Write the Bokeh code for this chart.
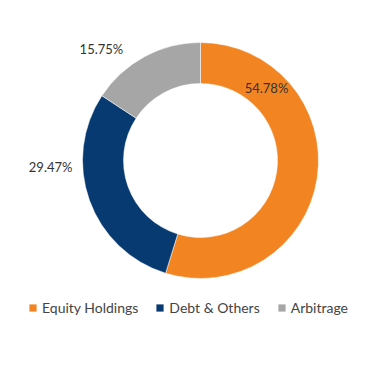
import math
from bokeh.plotting import figure
from bokeh.models import ColumnDataSource, Legend, LegendItem, Range1d
from bokeh.core.properties import value
from bokeh.embed import file_html
from bokeh.resources import INLINE

categories = ["Equity Holdings", "Debt & Others", "Arbitrage"]
shares = [54.78, 29.47, 15.75]
labels = ["54.78%", "29.47%", "15.75%"]
colors = ["#F28522", "#063A70", "#A6A6A6"]

W, H = 361, 382
CX, CY = 200, H - 160
R_IN, R_OUT = 77, 118

# wedge angles: start at top, clockwise
total = sum(shares)
starts, ends = [], []
acc = 0.0
for s in shares:
    a0 = math.pi / 2 - 2 * math.pi * acc / total
    acc += s
    a1 = math.pi / 2 - 2 * math.pi * acc / total
    starts.append(a0)
    ends.append(a1)

src = ColumnDataSource(dict(cat=categories, share=shares, color=colors,
                            start=starts, end=ends))

p = figure(width=W, height=H, output_backend="svg", toolbar_location=None,
           x_range=Range1d(0, W), y_range=Range1d(0, H), min_border=0,
           outline_line_color=None)
p.axis.visible = False
p.grid.visible = False

p.annular_wedge(x=CX, y=CY, inner_radius=R_IN, outer_radius=R_OUT,
                start_angle="start", end_angle="end", direction="clock",
                fill_color="color", line_color="white", line_width=0.5, source=src)

# label placement (polar, degrees / px)
label_theta = [47.5, 182.3, 131.5]
label_r = [97.7, 150, 149.5]
lx = [CX + r * math.cos(math.radians(t)) for r, t in zip(label_r, label_theta)]
ly = [CY + r * math.sin(math.radians(t)) for r, t in zip(label_r, label_theta)]
p.text(x=lx, y=ly, text=labels, text_font=value("Lato"), text_font_size="13px",
       text_color="#333333", text_align="center", text_baseline="middle")

items = []
for c, col in zip(categories, colors):
    r = p.quad(left=[float("nan")], right=[float("nan")], bottom=[float("nan")],
               top=[float("nan")], fill_color=col, line_color=None)
    items.append(LegendItem(label=c, renderers=[r]))

legend = Legend(items=items, orientation="horizontal", location=(28, H - 316),
                glyph_width=9, glyph_height=9, label_standoff=5, spacing=17,
                padding=0, margin=0, border_line_color=None,
                background_fill_alpha=0, label_text_font="Lato",
                label_text_font_size="14px", label_text_color="#444444")
p.add_layout(legend, "center")

open("out.html", "w").write(file_html(p, INLINE))
